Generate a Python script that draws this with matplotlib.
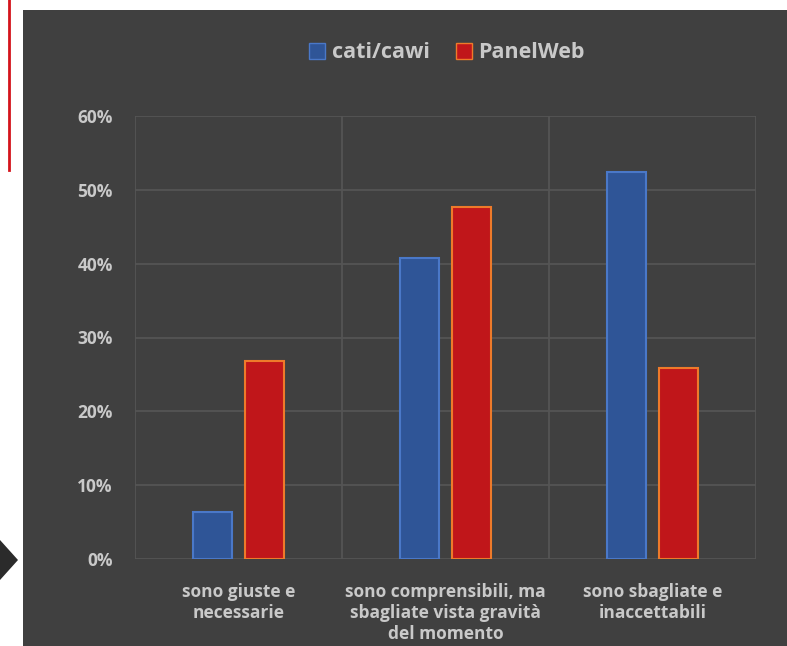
#!/usr/bin/env python3
"""Grouped bar chart: cati/cawi vs PanelWeb opinions, dark slide style."""

import matplotlib
matplotlib.use("Agg")
import matplotlib.pyplot as plt
import numpy as np
from matplotlib.lines import Line2D
from matplotlib.patches import Polygon, Rectangle, Patch

categories = ["sono giuste e\nnecessarie",
              "sono comprensibili, ma\nsbagliate vista gravità\ndel momento",
              "sono sbagliate e\ninaccettabili"]
series_names = ["cati/cawi", "PanelWeb"]
cati_cawi = [6.4, 40.8, 52.4]
panelweb = [26.8, 47.7, 25.9]
y_ticks = [0, 10, 20, 30, 40, 50, 60]

BG = "#404040"
GRID = "#555555"
TEXT = "#c9c9c9"
FONT = ["Open Sans", "DejaVu Sans"]

fig = plt.figure(figsize=(7.87, 6.46), dpi=100)
fig.patch.set_facecolor("white")

# dark slide panel, red rule and arrow on the white margin
fig.patches.append(Rectangle((23 / 787, 0), 1 - 23 / 787, 1 - 10 / 646,
                             transform=fig.transFigure, facecolor=BG,
                             edgecolor="none", zorder=-10))
fig.lines.append(Line2D([9 / 787, 9 / 787], [1 - 170 / 646, 1],
                        transform=fig.transFigure, color="#d4141c",
                        linewidth=2, zorder=-5))
fig.patches.append(Polygon([(0, 1 - 540 / 646), (18 / 787, 1 - 560 / 646),
                            (0, 1 - 580 / 646)], closed=True,
                           transform=fig.transFigure, facecolor="#2b2b2b",
                           edgecolor="none", zorder=-5))

ax = fig.add_axes([135 / 787, 87 / 646, (756 - 135) / 787, (559 - 116) / 646])
ax.set_facecolor("none")

x = np.arange(len(categories))
w = 0.185
off = 0.125
ax.bar(x - off, cati_cawi, w, color="#2f5597", edgecolor="#4a78c8",
       linewidth=1.5, zorder=3)
ax.bar(x + off, panelweb, w, color="#c0161a", edgecolor="#ee7a2a",
       linewidth=1.5, zorder=3)

ax.set_xlim(-0.5, len(categories) - 0.5)
ax.set_ylim(0, 60)
ax.set_yticks(y_ticks)
ax.set_yticklabels([f"{v}%" for v in y_ticks])
ax.set_xticks(x)
ax.set_xticklabels(categories, linespacing=1.22)

for s in ax.spines.values():
    s.set_visible(False)
for v in y_ticks:
    ax.axhline(v, color=GRID, linewidth=1.3, zorder=1)
for b in np.arange(-0.5, len(categories), 1.0):
    ax.axvline(b, color=GRID, linewidth=1.3, zorder=1)

ax.tick_params(length=0, colors=TEXT)
ax.tick_params(axis="y", pad=16)
ax.tick_params(axis="x", pad=17)
for lab in ax.get_yticklabels() + ax.get_xticklabels():
    lab.set_family(FONT)
    lab.set_fontweight("bold")
    lab.set_fontsize(12.5)
    lab.set_color(TEXT)

handles = [Patch(facecolor="#2f5597", edgecolor="#4a78c8"),
           Patch(facecolor="#c0161a", edgecolor="#ee7a2a")]
fig.legend(handles, series_names, loc="center", bbox_to_anchor=(447 / 787, 1 - 53 / 646),
           ncol=2, frameon=False, handlelength=0.75, handleheight=0.75,
           handletextpad=0.3, columnspacing=1.2,
           prop={"family": FONT, "weight": "bold", "size": 15.5},
           labelcolor=TEXT)

fig.savefig("out.png", dpi=100, facecolor=fig.get_facecolor())
